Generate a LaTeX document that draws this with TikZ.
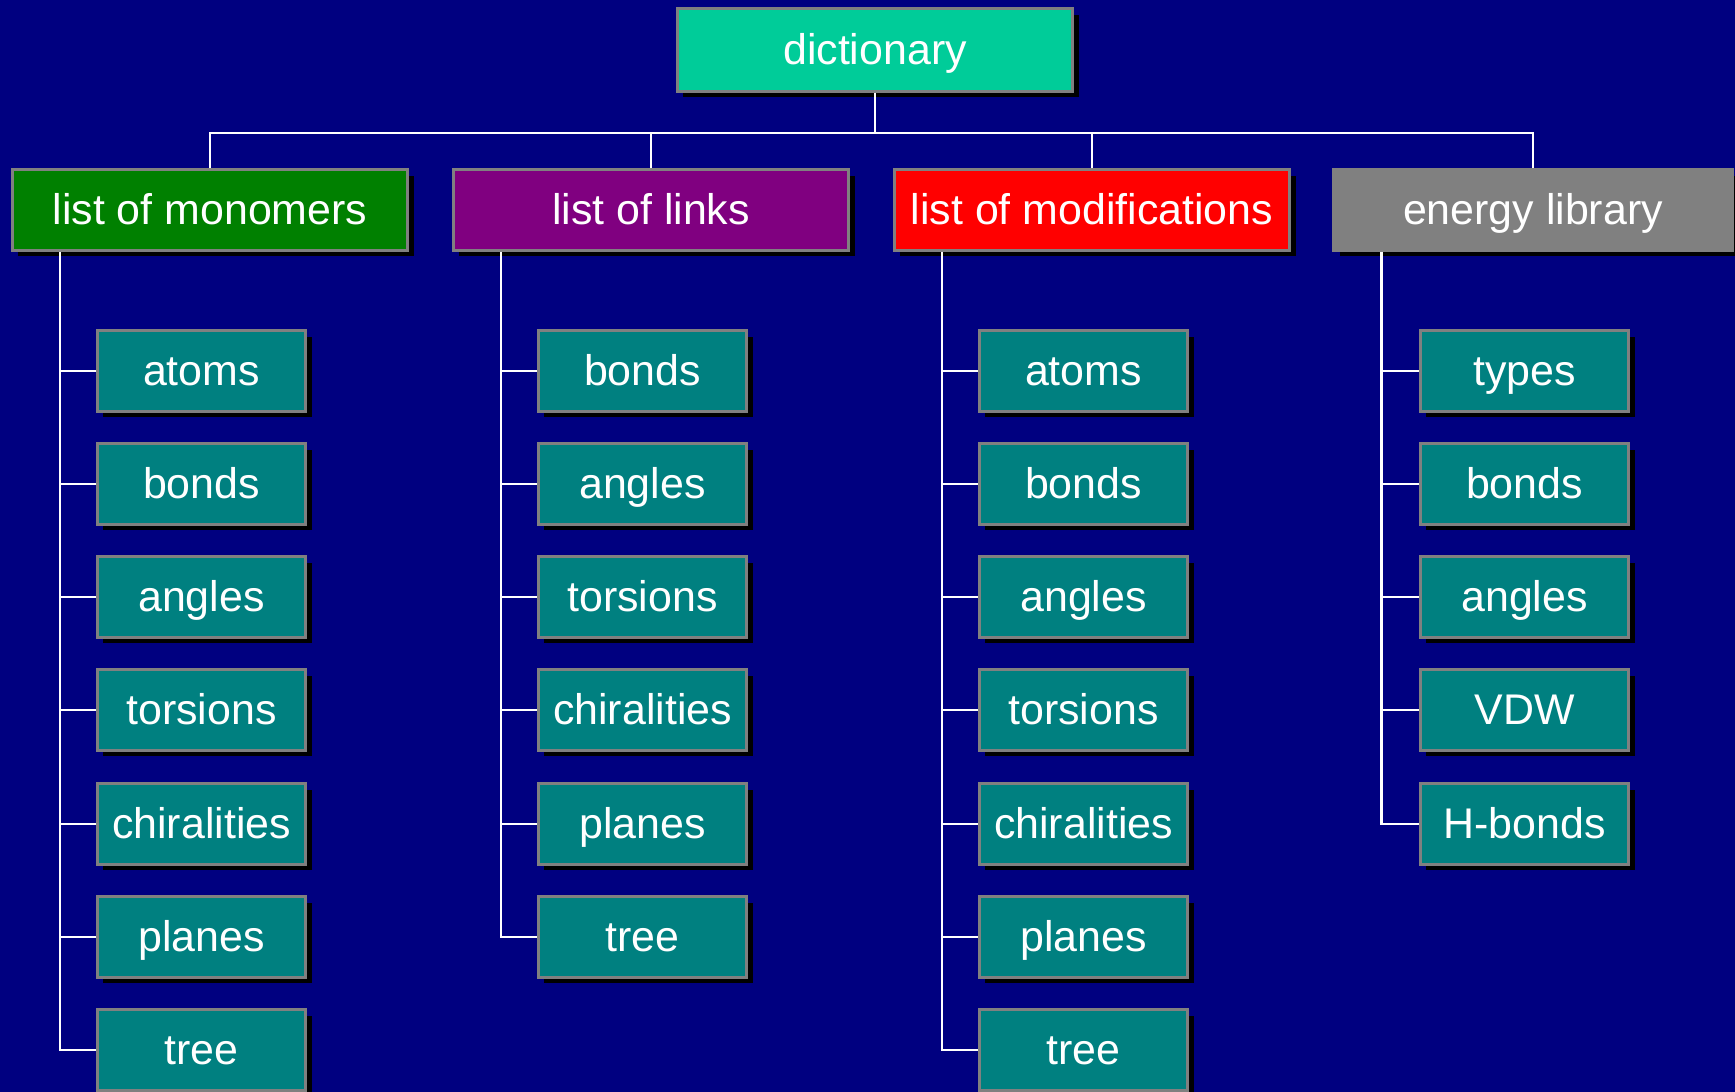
\documentclass[tikz,border=0pt]{standalone}
\usepackage{fontspec}
\setmainfont{Liberation Sans}
\usetikzlibrary{shadows}

\definecolor{bgnavy}{HTML}{000080}
\definecolor{dictgreen}{HTML}{00CC99}
\definecolor{monogreen}{HTML}{008000}
\definecolor{linkpurple}{HTML}{800080}
\definecolor{modred}{HTML}{FF0000}
\definecolor{libgray}{HTML}{808080}
\definecolor{itemteal}{HTML}{008080}
\definecolor{boxgray}{HTML}{808080}

\tikzset{
    box/.style={draw=boxgray, line width=0.85pt, text=white,
        font=\fontsize{12.2}{14}\selectfont, minimum height=0.8cm, inner sep=0pt,
        text height=0.9em, text depth=0.1em,
        drop shadow={shadow xshift=0.06cm, shadow yshift=-0.06cm, fill=black, opacity=1}},
    head/.style={box, minimum width=3.95cm},
    item/.style={box, fill=itemteal, minimum width=2.08cm},
    wire/.style={draw=white, line width=0.75pt}
}

\begin{document}
\begin{tikzpicture}[x=0.01cm, y=-0.01cm]
    % Фон
    \useasboundingbox (0,0) rectangle (1735,1092);
    \clip (0,0) rectangle (1735,1092);
    \fill[bgnavy] (0,0) rectangle (1735,1092);

    % Корень
    \node[head, fill=dictgreen, minimum height=0.82cm] (dict) at (875,50) {dictionary};

    % Первый уровень
    \node[head, fill=monogreen] (mono) at (210,210) {list of monomers};
    \node[head, fill=linkpurple] (links) at (651,210) {list of links};
    \node[head, fill=modred] (mods) at (1092,210) {list of modifications};
    \node[head, fill=libgray, minimum width=3.98cm] (lib) at (1533,210) {energy library};

    % Мономеры
    \node[item] (mon1) at (201.5,371) {atoms};
    \node[item] (mon2) at (201.5,484) {bonds};
    \node[item] (mon3) at (201.5,597) {angles};
    \node[item] (mon4) at (201.5,710) {torsions};
    \node[item] (mon5) at (201.5,824) {chiralities};
    \node[item] (mon6) at (201.5,937) {planes};
    \node[item] (mon7) at (201.5,1050) {tree};

    % Связи
    \node[item] (lnk1) at (642.5,371) {bonds};
    \node[item] (lnk2) at (642.5,484) {angles};
    \node[item] (lnk3) at (642.5,597) {torsions};
    \node[item] (lnk4) at (642.5,710) {chiralities};
    \node[item] (lnk5) at (642.5,824) {planes};
    \node[item] (lnk6) at (642.5,937) {tree};

    % Модификации
    \node[item] (mod1) at (1083.5,371) {atoms};
    \node[item] (mod2) at (1083.5,484) {bonds};
    \node[item] (mod3) at (1083.5,597) {angles};
    \node[item] (mod4) at (1083.5,710) {torsions};
    \node[item] (mod5) at (1083.5,824) {chiralities};
    \node[item] (mod6) at (1083.5,937) {planes};
    \node[item] (mod7) at (1083.5,1050) {tree};

    % Библиотека энергий
    \node[item] (en1) at (1524.5,371) {types};
    \node[item] (en2) at (1524.5,484) {bonds};
    \node[item] (en3) at (1524.5,597) {angles};
    \node[item] (en4) at (1524.5,710) {VDW};
    \node[item] (en5) at (1524.5,824) {H-bonds};

    % Шина сверху
    \coordinate (bus) at (875,133);
    \draw[wire] (dict.south) -- (bus);
    \draw[wire] (mono.north) |- (bus) -| (lib.north);
    \draw[wire] (links.north) -- (links.north |- bus);
    \draw[wire] (mods.north) -- (mods.north |- bus);

    % Ветки
    \draw[wire] ([xshift=0.49cm]mono.south west) |- (mon7.west);
    \draw[wire] (mon1.west) -- ++(-36,0) (mon2.west) -- ++(-36,0) (mon3.west) -- ++(-36,0)
        (mon4.west) -- ++(-36,0) (mon5.west) -- ++(-36,0) (mon6.west) -- ++(-36,0);
    \draw[wire] ([xshift=0.49cm]links.south west) |- (lnk6.west);
    \draw[wire] (lnk1.west) -- ++(-36,0) (lnk2.west) -- ++(-36,0) (lnk3.west) -- ++(-36,0)
        (lnk4.west) -- ++(-36,0) (lnk5.west) -- ++(-36,0);
    \draw[wire] ([xshift=0.49cm]mods.south west) |- (mod7.west);
    \draw[wire] (mod1.west) -- ++(-36,0) (mod2.west) -- ++(-36,0) (mod3.west) -- ++(-36,0)
        (mod4.west) -- ++(-36,0) (mod5.west) -- ++(-36,0) (mod6.west) -- ++(-36,0);
    \draw[wire] ([xshift=0.49cm]lib.south west) |- (en5.west);
    \draw[wire] (en1.west) -- ++(-36,0) (en2.west) -- ++(-36,0) (en3.west) -- ++(-36,0)
        (en4.west) -- ++(-36,0);
\end{tikzpicture}
\end{document}
